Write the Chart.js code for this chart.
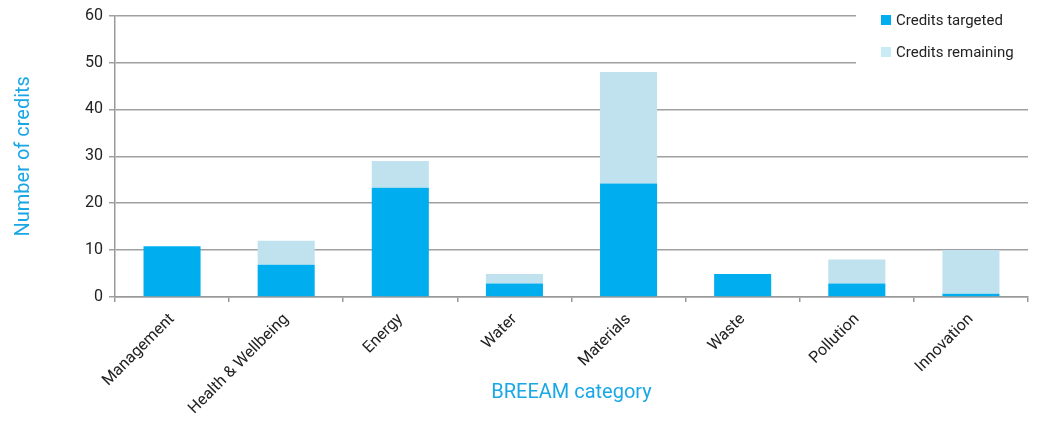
<!DOCTYPE html>
<html>
<head>
<meta charset="utf-8">
<script src="https://cdn.jsdelivr.net/npm/chart.js@4"></script>
<style>
  html, body { margin: 0; padding: 0; background: #fff; }
  #wrap { width: 1039px; height: 425px; }
</style>
</head>
<body>
<div id="wrap"><canvas id="grafico"></canvas></div>
<script>
// Categorias e valores
const categorias = ['Management', 'Health & Wellbeing', 'Energy', 'Water', 'Materials', 'Waste', 'Pollution', 'Innovation'];
const creditosAlvo = [10.8, 6.9, 23.3, 2.9, 24.2, 4.9, 2.9, 0.7];
const creditosRestantes = [0, 5.1, 5.7, 2.0, 23.8, 0, 5.1, 9.3];
const ticksY = [0, 10, 20, 30, 40, 50, 60];

const corAlvo = '#00aeef';
const corRestante = '#bfe2ee';
const corTitulo = '#1aa7e6';
const fonte = 'Roboto, "Liberation Sans", sans-serif';

// Legenda desenhada por cima da área do gráfico (cobre as linhas de grade)
const legendaSobreposta = {
    id: 'legendaSobreposta',
    afterDraw(chart) {
        const ctx = chart.ctx;
        const area = chart.chartArea;
        const x0 = area.right - 172;
        ctx.save();
        ctx.fillStyle = '#fff';
        ctx.fillRect(x0, 0, chart.width - x0, 66);
        ctx.font = '15px ' + fonte;
        ctx.textBaseline = 'middle';
        chart.data.datasets.forEach((ds, i) => {
            const y = 20 + i * 32;
            ctx.fillStyle = i === 0 ? ds.backgroundColor : '#c8ebf6';
            ctx.fillRect(x0 + 25, y - 5, 10, 10);
            ctx.fillStyle = '#222';
            ctx.fillText(ds.label, x0 + 40, y + 1);
        });
        ctx.restore();
    }
};

const ctx = document.getElementById('grafico').getContext('2d');
new Chart(ctx, {
    type: 'bar',
    data: {
        labels: categorias,
        datasets: [
            { label: 'Credits targeted', data: creditosAlvo, backgroundColor: corAlvo, barPercentage: 0.5, categoryPercentage: 1 },
            { label: 'Credits remaining', data: creditosRestantes, backgroundColor: corRestante, barPercentage: 0.5, categoryPercentage: 1 }
        ]
    },
    options: {
        responsive: true,
        maintainAspectRatio: false,
        animation: false,
        layout: { padding: { top: 8, right: 11, left: 8, bottom: 0 } },
        plugins: {
            legend: { display: false },
            tooltip: { enabled: false }
        },
        scales: {
            x: {
                stacked: true,
                afterFit(axis) { axis.height = 128; },
                grid: { display: true, drawOnChartArea: false, offset: true, color: '#999', tickLength: 5, lineWidth: 1.5 },
                border: { color: '#999', width: 1.5 },
                ticks: { color: '#222', font: { family: fonte, size: 16 }, maxRotation: 45, minRotation: 45, padding: 8 },
                title: { display: true, text: 'BREEAM category', color: corTitulo, font: { family: fonte, size: 20 }, padding: { top: 0, bottom: 20 } }
            },
            y: {
                stacked: true,
                min: 0,
                max: 60,
                afterBuildTicks(axis) { axis.ticks = ticksY.map(v => ({ value: v })); },
                grid: { color: '#a0a0a0', lineWidth: 1.5, tickLength: 6 },
                border: { color: '#999', width: 1.5 },
                ticks: { color: '#222', font: { family: fonte, size: 16 }, padding: 6 },
                title: { display: true, text: 'Number of credits', color: corTitulo, font: { family: fonte, size: 20 }, padding: { bottom: 43 } }
            }
        }
    },
    plugins: [legendaSobreposta]
});
</script>
</body>
</html>
